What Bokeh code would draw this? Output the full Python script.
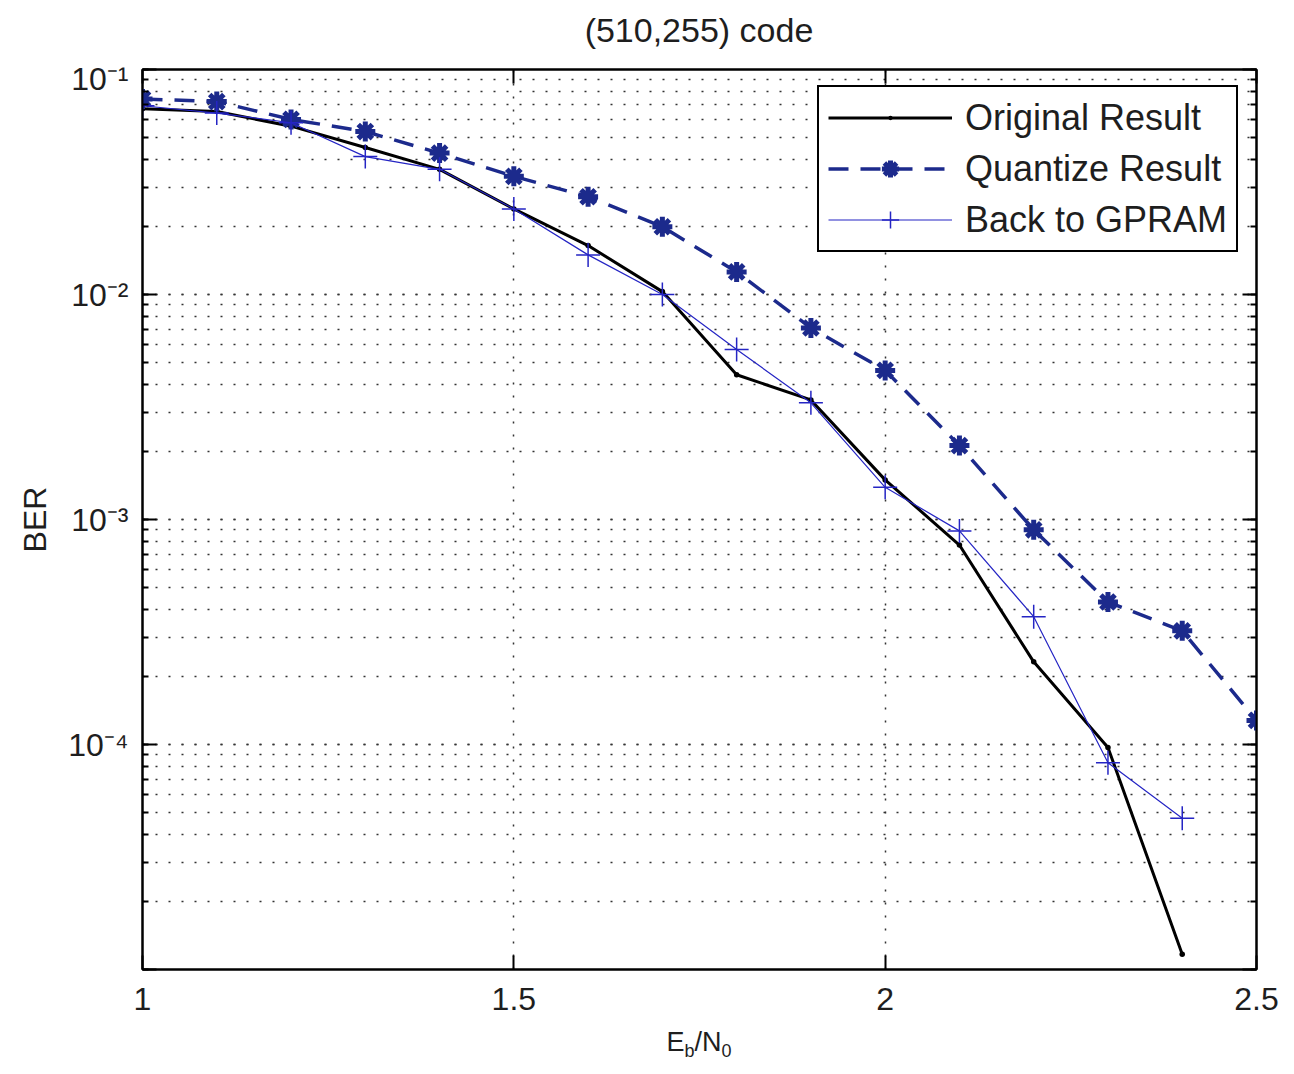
from bokeh.plotting import figure
from bokeh.models import (LogAxis, LinearAxis, LogTicker, FixedTicker, CustomJSTickFormatter,
                          Legend, LegendItem, Range1d, Div)
from bokeh.layouts import column
from bokeh.embed import file_html
from bokeh.resources import INLINE

# ---------------- data ----------------
ebn0_orig = [1.0, 1.1, 1.2, 1.3, 1.4, 1.5, 1.6, 1.7, 1.8, 1.9, 2.0, 2.1, 2.2, 2.3, 2.4]
ber_orig = [0.067, 0.065, 0.056, 0.045, 0.036, 0.024, 0.0165, 0.0103, 0.0044, 0.0034,
            0.0015, 0.00077, 0.000233, 0.000097, 0.0000117]

ebn0_quant = [1.0, 1.1, 1.2, 1.3, 1.4, 1.5, 1.6, 1.7, 1.8, 1.9, 2.0, 2.1, 2.2, 2.3, 2.4, 2.5]
ber_quant = [0.074, 0.072, 0.060, 0.053, 0.0425, 0.0335, 0.0272, 0.020, 0.0126, 0.0071,
             0.0046, 0.00213, 0.0009, 0.00043, 0.00032, 0.000128]

ebn0_gpram = [1.0, 1.1, 1.2, 1.3, 1.4, 1.5, 1.6, 1.7, 1.8, 1.9, 2.0, 2.1, 2.2, 2.3, 2.4]
ber_gpram = [0.069, 0.064, 0.058, 0.041, 0.036, 0.024, 0.015, 0.0100, 0.0057, 0.0033,
             0.00139, 0.00089, 0.00037, 0.000083, 0.000047]

series_labels = ["Original Result", "Quantize Result", "Back to GPRAM"]

x_tick_values = [1.0, 1.5, 2.0, 2.5]
x_tick_labels = ["1", "1.5", "2", "2.5"]
y_tick_values = [1e-5, 1e-4, 1e-3, 1e-2, 1e-1]
y_tick_labels = ["", "10\u207b\u2074", "10\u207b\u00b3", "10\u207b\u00b2", "10\u207b\u00b9"]

title_text = "(510,255) code"
y_label = "BER"
x_label_html = "E<sub>b</sub>/N<sub>0</sub>"

FONT = "Liberation Sans"
TXT = "#1e1e1e"
NAVY = "#1c2a8c"
BLUE = "#2525c4"

# ---------------- title (HTML block above the plot) ----------------
title_div = Div(text=(
    '<div style="width:1114px; margin-left:142px; text-align:center; white-space:nowrap; '
    'font-family:\'Liberation Sans\'; font-size:34px; line-height:60px; color:%s;">%s</div>'
    % (TXT, title_text)), width=1294, height=60, margin=0)

# ---------------- figure ----------------
p = figure(x_range=Range1d(1, 2.5), y_range=Range1d(1e-5, 1e-1), y_axis_type="log",
           frame_width=1114, frame_height=900, title=None,
           min_border_left=142, min_border_right=38, min_border_top=9, min_border_bottom=58,
           output_backend="svg", toolbar_location=None,
           background_fill_color="white", border_fill_color="white")

p.outline_line_color = "black"
p.outline_line_width = 2

xt = FixedTicker(ticks=x_tick_values, minor_ticks=[])
yt = LogTicker(num_minor_ticks=10)

xfmt = CustomJSTickFormatter(args=dict(vals=x_tick_values, labs=x_tick_labels), code="""
for (let i = 0; i < vals.length; i++) { if (Math.abs(vals[i] - tick) < 1e-9) return labs[i]; }
return "";
""")
yfmt = CustomJSTickFormatter(args=dict(vals=y_tick_values, labs=y_tick_labels), code="""
const lg = Math.log10(tick);
for (let i = 0; i < vals.length; i++) { if (Math.abs(Math.log10(vals[i]) - lg) < 1e-6) return labs[i]; }
return "";
""")
blank = CustomJSTickFormatter(code='return "";')

def style_axis(ax):
    ax.axis_line_color = "black"
    ax.axis_line_width = 2
    ax.major_tick_in = 14
    ax.major_tick_out = 0
    ax.minor_tick_in = 6
    ax.minor_tick_out = 0
    ax.major_tick_line_width = 2
    ax.minor_tick_line_width = 2
    ax.major_tick_line_color = "black"
    ax.minor_tick_line_color = "black"
    ax.major_label_text_font = FONT
    ax.major_label_text_font_size = "32px"
    ax.major_label_text_color = TXT
    ax.axis_label_text_font = FONT
    ax.axis_label_text_font_style = "normal"
    ax.axis_label_text_font_size = "32px"
    ax.axis_label_text_color = TXT

xa = p.xaxis[0]
xa.ticker = xt
xa.formatter = xfmt
style_axis(xa)
xa.major_label_standoff = 18

ya = p.yaxis[0]
ya.ticker = yt
ya.formatter = yfmt
style_axis(ya)
ya.major_label_standoff = 14
ya.axis_label = y_label
ya.axis_label_standoff = 12

ra = LogAxis(ticker=yt, formatter=blank)
style_axis(ra)
ra.major_label_text_font_size = "0px"
ra.major_label_standoff = 0
p.add_layout(ra, "right")

ta = LinearAxis(ticker=xt, formatter=blank)
style_axis(ta)
ta.major_label_text_font_size = "0px"
ta.major_label_standoff = 0
p.add_layout(ta, "above")

for g in (p.xgrid[0], p.ygrid[0]):
    g.grid_line_color = "#333333"
    g.grid_line_dash = "2 11"
    g.grid_line_width = 1.5
p.xgrid[0].ticker = xt
p.ygrid[0].ticker = yt
p.ygrid[0].minor_grid_line_color = "#333333"
p.ygrid[0].minor_grid_line_dash = "2 11"
p.ygrid[0].minor_grid_line_width = 1.5

# ---------------- series ----------------
r1 = p.line(ebn0_orig, ber_orig, line_color="black", line_width=3)
s1 = p.scatter(ebn0_orig, ber_orig, marker="dot", size=22, color="black", line_width=2)

r2 = p.line(ebn0_quant, ber_quant, line_color=NAVY, line_width=3.5, line_dash="20 12")
s2 = p.scatter(ebn0_quant, ber_quant, marker="asterisk", size=20, line_color=NAVY, line_width=5)

r3 = p.line(ebn0_gpram, ber_gpram, line_color=BLUE, line_width=1.2)
s3 = p.scatter(ebn0_gpram, ber_gpram, marker="cross", size=24, line_color=BLUE, line_width=1.5)

legend = Legend(items=[LegendItem(label=series_labels[0], renderers=[r1, s1]),
                       LegendItem(label=series_labels[1], renderers=[r2, s2]),
                       LegendItem(label=series_labels[2], renderers=[r3, s3])],
                location=(675, 717))
legend.label_text_font = FONT
legend.label_text_font_size = "36px"
legend.label_text_color = TXT
legend.glyph_width = 124
legend.glyph_height = 43
legend.label_height = 43
legend.label_standoff = 13
legend.padding = 9
legend.spacing = 8
legend.margin = 0
legend.border_line_color = "black"
legend.border_line_alpha = 1.0
legend.border_line_width = 2
legend.background_fill_color = "white"
legend.background_fill_alpha = 1.0
p.add_layout(legend)

# ---------------- x-axis label  E_b/N_0 (HTML, for the subscripts) ----------------
xlabel = Div(text=(
    '<div style="width:1114px; margin-left:142px; text-align:center; '
    'font-family:\'Liberation Sans\'; font-size:27px; line-height:30px; color:%s;">%s</div>'
    % (TXT, x_label_html.replace("<sub>", '<sub style="font-size:18px; vertical-align:-6px; line-height:0;">'))),
    width=1294, height=34, margin=0)

layout = column(title_div, p, xlabel, spacing=0)
open("out.html", "w").write(file_html(layout, INLINE))
